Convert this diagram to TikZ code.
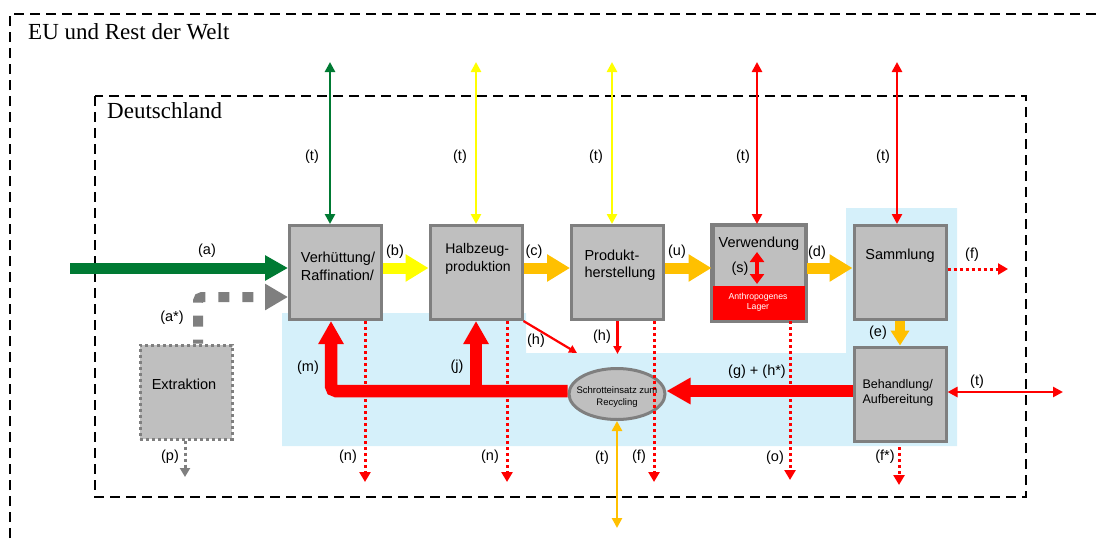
\documentclass[tikz,border=0pt]{standalone}
\usepackage{fontspec}
\setmainfont{Liberation Sans}
\newfontfamily\titlefont{Liberation Serif}
\usetikzlibrary{arrows.meta,shapes.geometric}

\definecolor{procgray}{RGB}{191,191,191}
\definecolor{framegray}{RGB}{127,127,127}
\definecolor{recblue}{RGB}{213,240,250}
\definecolor{flowgreen}{RGB}{0,122,51}
\definecolor{flowyellow}{RGB}{255,255,0}
\definecolor{floworange}{RGB}{255,192,0}
\definecolor{flowred}{RGB}{255,0,0}

\begin{document}
\begin{tikzpicture}[x=1pt,y=-1pt]
    \useasboundingbox (0,0) rectangle (1099,538);
    % Recycling area
    \fill[recblue] (282,313) -- (526,313) -- (526,353) -- (846,353) -- (846,208)
        -- (957,208) -- (957,446) -- (282,446) -- cycle;
    % system borders
    \begin{scope}
        \tikzstyle{sysline}=[draw=black, line width=2.5pt, dash pattern=on 10pt off 6pt]
        \draw[sysline] (10,538) -- (10,14) -- (1099,14);
        \draw[sysline] (95,96) rectangle (1026,497);
        \tikzstyle{every node}=[anchor=base west, inner sep=0pt, font=\titlefont\fontsize{23}{26}\selectfont]
        \node (welt) at (28,39) {EU und Rest der Welt};
        \node (de) at (107,118) {Deutschland};
    \end{scope}
    % processes
    \begin{scope}
        \tikzstyle{every node}=[fill=procgray, draw=framegray, line width=3pt, minimum width=92pt, minimum height=94pt, inner sep=0pt]
        \node (verh) at (335.5,272.5) {};
        \node (halb) at (476,272.5) {};
        \node (prod) at (617.5,272.5) {};
        \node (verw) at (759,272.5) {};
        \node (samm) at (900,272.5) {};
        \node (beh) at (900,394) {};
        \node[dash pattern=on 3pt off 3pt] (extr) at (186,392) {};
        \node[ellipse, minimum width=96pt, minimum height=51pt] (schrott) at (617,394) {};
        \node[fill=flowred, draw=none, minimum height=34pt, anchor=south] (lager) at (verw.south) {};
    \end{scope}
    \draw[framegray, line width=3pt] (verw.south west) rectangle (verw.north east);
    % free ends
    \coordinate (ain) at (70,268);
    \coordinate (verhtop) at (330,62);
    \coordinate (halbtop) at (476,62);
    \coordinate (prodtop) at (612,62);
    \coordinate (verwtop) at (757,62);
    \coordinate (sammtop) at (897,62);
    \coordinate (behout) at (1063,392);
    \coordinate (schrottout) at (617,528);
    \coordinate (sstart) at (757,252);
    \coordinate (hdiag) at (577,353);
    \coordinate (hvert) at (617.5,354);
    \coordinate (verhloss) at (365,482);
    \coordinate (halbloss) at (507,482);
    \coordinate (prodloss) at (654,482);
    \coordinate (verwloss) at (790,480);
    \coordinate (behlosstop) at (899,447);
    \coordinate (behloss) at (899,485);
    \coordinate (sammloss) at (1008,269);
    \coordinate (extrloss) at (185,477);
    % losses
    \begin{scope}
        \tikzstyle{lossflow}=[flowred, line width=3pt, dash pattern=on 3pt off 3pt, -{Triangle[width=11pt,length=10pt]}]
        \draw[lossflow] (verhloss |- verh.south) -- (verhloss);
        \draw[lossflow] (halbloss |- halb.south) -- (halbloss);
        \draw[lossflow] (prodloss |- prod.south) -- (prodloss);
        \draw[lossflow] (verwloss |- verw.south) -- (verwloss);
        \draw[lossflow] (behlosstop) -- (behloss);
        \draw[lossflow] ([yshift=3.5pt]samm.east) -- (sammloss);
        \draw[lossflow, framegray, -{Triangle[width=10pt,length=9pt]}] (extrloss |- extr.south) -- (extrloss);
    \end{scope}
    % main flows
    \begin{scope}
        \tikzstyle{mainflow}=[line width=11pt, -{Triangle[width=26pt,length=23pt]}]
        \draw[mainflow, flowgreen, -{Triangle[width=24pt,length=23pt]}] (ain) -- (ain -| verh.west);
        \draw[mainflow, flowyellow] ([yshift=4.5pt]verh.east) -- ([yshift=4.5pt]halb.west);
        \draw[mainflow, floworange] ([yshift=4.5pt]halb.east) -- ([yshift=4.5pt]prod.west);
        \draw[mainflow, floworange] ([yshift=4.5pt]prod.east) -- ([yshift=4.5pt]verw.west);
        \draw[mainflow, floworange] ([yshift=4.5pt]verw.east) -- ([yshift=4.5pt]samm.west);
        \draw[mainflow, floworange, line width=10pt, -{Triangle[width=18pt,length=15pt]}] (samm.south) -- (beh.north);
        \draw[mainflow, framegray, line width=10pt, dash pattern=on 11pt off 13pt, dash phase=7pt, rounded corners=4pt,
            -{Triangle[width=25pt,length=23pt]}] ([xshift=12pt]extr.north) |- ([yshift=-24.5pt]verh.west);
        \tikzstyle{recflow}=[flowred, line width=12.5pt, -{Triangle[width=24pt,length=23pt]}]
        \draw[recflow, -{Triangle[width=25pt,length=24pt]}] ([yshift=3pt]beh.west) -- ([yshift=3pt]schrott.east);
        \draw[recflow, rounded corners=5pt] ([yshift=3pt]schrott.west) -| ([xshift=-4.5pt]verh.south);
        \draw[recflow] (halb.south |- 0,391) -- (halb.south);
    \end{scope}
    % exchange flows
    \begin{scope}
        \tikzstyle{tflow}=[line width=2.5pt, >={Triangle[width=10pt,length=10pt]}, <->]
        \draw[tflow, flowgreen] (verhtop) -- (verhtop |- verh.north);
        \draw[tflow, flowyellow] (halbtop) -- (halbtop |- halb.north);
        \draw[tflow, flowyellow] (prodtop) -- (prodtop |- prod.north);
        \draw[tflow, flowred] (verwtop) -- (verwtop |- verw.north);
        \draw[tflow, flowred] (sammtop) -- (sammtop |- samm.north);
        \draw[tflow, flowred] ([yshift=2pt]beh.east) -- (behout);
        \draw[tflow, floworange] (schrott.south) -- (schrottout);
        \draw[tflow, flowred, line width=4pt, >={Triangle[width=14pt,length=10pt]}] (sstart) -- (sstart |- lager.north);
        \draw[flowred, line width=2.2pt, -{Triangle[width=8pt,length=8pt]}] (halb.south east) -- (hdiag);
        \draw[flowred, line width=2.2pt, -{Triangle[width=8pt,length=8pt]}] (prod.south) -- (hvert);
    \end{scope}
    % process texts
    \begin{scope}
        \tikzstyle{every node}=[align=left, inner sep=0pt, font=\fontsize{14.5}{17.5}\selectfont]
        \node (verhtext) at (338,266.5) {Verhüttung/\\Raffination/};
        \node[font=\fontsize{14}{17.5}\selectfont] (halbtext) at (478,259) {Halbzeug-\\produktion};
        \node (prodtext) at (620,265) {Produkt-\\herstellung};
        \node (verwtext) at (759,244) {Verwendung};
        \node (sammtext) at (900,256) {Sammlung};
        \node[font=\fontsize{12.5}{15}\selectfont] (behtext) at (898,393) {Behandlung/\\Aufbereitung};
        \node (extrtext) at (184,384) {Extraktion};
        \node[align=center, font=\fontsize{9.5}{11.5}\selectfont] (schrotttext) at (617,397) {Schrotteinsatz zum\\Recycling};
        \node[align=center, text=white, font=\fontsize{8.7}{10}\selectfont] (lagertext) at (758,302) {Anthropogenes\\Lager};
    \end{scope}
    % flow labels
    \begin{scope}
        \tikzstyle{every node}=[inner sep=0pt, font=\fontsize{14.5}{16}\selectfont]
        \node (la) at (207,251) {(a)};
        \node (lastar) at (172,318) {(a*)};
        \node (lp) at (170,457) {(p)};
        \node (lb) at (395,252) {(b)};
        \node (lc) at (534,252) {(c)};
        \node (lu) at (677,252) {(u)};
        \node (ld) at (817,253) {(d)};
        \node (lf) at (972,255) {(f)};
        \node (le) at (878,333) {(e)};
        \node (ls) at (740,269) {(s)};
        \node (lt1) at (312,157) {(t)};
        \node (lt2) at (460,157) {(t)};
        \node (lt3) at (596,157) {(t)};
        \node (lt4) at (743,157) {(t)};
        \node (lt5) at (883,157) {(t)};
        \node (lt6) at (977,382) {(t)};
        \node (lt7) at (602,458) {(t)};
        \node (lg) at (757,372) {(g) + (h*)};
        \node (lm) at (308,368) {(m)};
        \node (lj) at (457,367) {(j)};
        \node (lh1) at (536,341) {(h)};
        \node (lh2) at (602,337) {(h)};
        \node (ln1) at (348,457) {(n)};
        \node (ln2) at (490,457) {(n)};
        \node (lf2) at (639,457) {(f)};
        \node (lo) at (775,458) {(o)};
        \node (lfstar) at (885,457) {(f*)};
    \end{scope}
\end{tikzpicture}
\end{document}
